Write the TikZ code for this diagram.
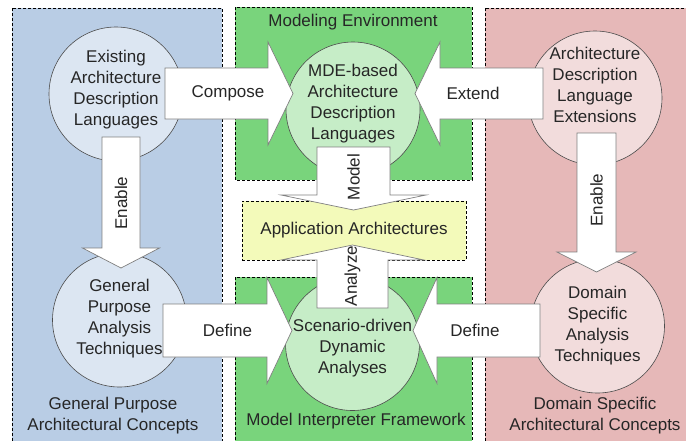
\documentclass[tikz,border=0pt]{standalone}
\usepackage{fontspec}
\setmainfont{Liberation Sans}
\usepackage{xcolor}
\usepackage{tikz}
\usetikzlibrary{calc}

\definecolor{gpblue}{HTML}{B9CDE5}
\definecolor{gpcircle}{HTML}{DCE6F2}
\definecolor{mdgreen}{HTML}{79D47C}
\definecolor{mdcircle}{HTML}{C6EDC7}
\definecolor{dsred}{HTML}{E6B8B8}
\definecolor{dscircle}{HTML}{F2DCDC}
\definecolor{appyellow}{HTML}{F3FABA}

\tikzset{
	panel/.style={draw=black, densely dashed, line width=0.7pt},
	bubble/.style={circle, draw=black!70, line width=0.6pt, minimum size=134pt, inner sep=0pt},
	txt/.style={text=black!85, align=center, font=\fontsize{17}{21}\selectfont, inner sep=0pt},
	fat/.style={fill=white, draw=black!50, line width=0.7pt, line join=miter},
}

% tail, head back, tip, centre, half body, half head
\newcommand\harrow[6]{\draw[fat] (#1,#4-#5) -- (#2,#4-#5) -- (#2,#4-#6) -- (#3,#4)
	-- (#2,#4+#6) -- (#2,#4+#5) -- (#1,#4+#5) -- cycle;}
\newcommand\varrow[6]{\draw[fat] (#4-#5,#1) -- (#4-#5,#2) -- (#4-#6,#2) -- (#4,#3)
	-- (#4+#6,#2) -- (#4+#5,#2) -- (#4+#5,#1) -- cycle;}

\begin{document}
\begin{tikzpicture}[x=1pt,y=-1pt]
		\clip (0,0) rectangle (686,440);
		\fill[white] (0,0) rectangle (686,440);
		% panels
		\draw[panel, fill=gpblue] (12,8) rectangle (222,460);
		\draw[panel, fill=mdgreen] (235,7) rectangle (472,180);
		\draw[panel, fill=mdgreen] (235,277) rectangle (472,460);
		\draw[panel, fill=dsred] (485,8) rectangle (700,460);
		\node[panel, fill=appyellow, minimum width=224pt, minimum height=59pt] (app) at (354,230.5) {};
		\node[txt] (applbl) at (app.center) {Application Architectures};

		\node[txt] (modenv) at (353,22) {Modeling Environment};
		\node[txt] (mif) at (356,421) {Model Interpreter Framework};
		\node[txt] (gpc) at (113,416) {General Purpose\\Architectural Concepts};
		\node[txt] (dsc) at (595,416) {Domain Specific\\Architectural Concepts};

		% circles
		\node[bubble, fill=gpcircle] (ead) at (116,94) {};
		\node[txt] at (116,90) {Existing\\Architecture\\Description\\Languages};
		\node[bubble, fill=mdcircle] (mde) at (353,109) {};
		\node[txt] at (353,104) {MDE-based\\Architecture\\Description\\Languages};
		\node[bubble, fill=dscircle] (ext) at (595,98) {};
		\node[txt] at (595,85) {Architecture\\Description\\Language\\Extensions};
		\node[bubble, fill=gpcircle] (gpa) at (119.5,320) {};
		\node[txt] at (119.5,319) {General\\Purpose\\Analysis\\Techniques};
		\node[bubble, fill=dscircle] (dsa) at (597.5,326) {};
		\node[txt] at (597.5,326) {Domain\\Specific\\Analysis\\Techniques};
		\node[bubble, fill=mdcircle] (sda) at (352.5,343.5) {};
		\node[txt] at (352.5,348) {Scenario-driven\\Dynamic\\Analyses};

		% block arrows
		\harrow{165}{268}{293}{93.5}{25.5}{51.5}
		\harrow{543}{440}{415}{93.5}{25.5}{51.5}
		\harrow{163}{267}{292}{330.5}{26.5}{53}
		\harrow{540}{437}{413}{330.5}{26.5}{53}
		\varrow{137}{248}{268}{121}{19}{38.5}
		\varrow{133}{252}{272}{596.5}{19.5}{39.5}
		\varrow{147}{195}{210}{353.5}{36.5}{72.5}
		\varrow{308}{260}{245}{352.5}{35.5}{71.5}

		\node[txt] (compose) at (228,93.5) {Compose};
		\node[txt] (extend) at (473,93.5) {Extend};
		\node[txt] (defl) at (227.5,330.5) {Define};
		\node[txt] (defr) at (475,330.5) {Define};
		\node[txt, rotate=90] (enl) at (121,203) {Enable};
		\node[txt, rotate=90] (enr) at (596.5,200) {Enable};
		\node[txt, rotate=90] (model) at (353.5,177) {Model};
		\node[txt, rotate=90] (analyze) at (352.5,276) {Analyze};
	\end{tikzpicture}
\end{document}
